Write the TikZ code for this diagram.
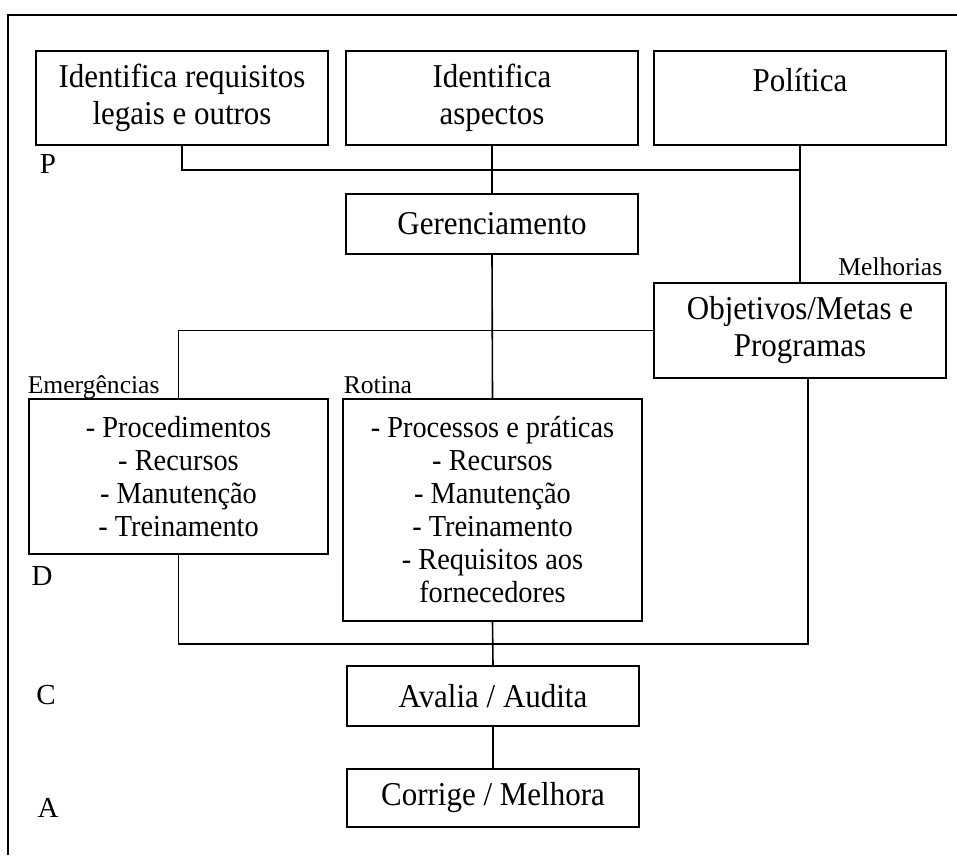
\documentclass[tikz,border=0pt]{standalone}
\usepackage{fontspec}
\setmainfont{Liberation Serif}[FakeStretch=0.93]
\newfontfamily\rotfont{Liberation Serif}
\usepackage{tikz}

\begin{document}
\begin{tikzpicture}[x=1pt, y=-1pt, line width=1.6pt,
  caixa/.style={draw, line width=1.6pt, minimum width=292pt, minimum height=94pt,
    inner sep=0pt, align=center, font=\fontsize{33.3}{37}\selectfont},
  lista/.style={caixa, minimum width=299pt, font=\fontsize{30.5}{33}\selectfont},
  rotulo/.style={inner sep=0pt, font=\rotfont\fontsize{25.6}{30}\selectfont},
  fase/.style={inner sep=0pt, font=\rotfont\fontsize{29}{30}\selectfont}]
  \useasboundingbox (0,0) rectangle (957,855);
  % moldura: so lado esquerdo e topo
  \draw (8,855) -- (8,15) -- (957,15);
  % P: planejamento
  \node[caixa] (req) at (182,98) {Identifica requisitos\\legais e outros};
  \node[caixa] (asp) at (492,98) {Identifica\\aspectos};
  \node[caixa] (pol) at (800,98) {Política\\\mbox{}};
  \node[caixa, minimum height=60pt] (ger) at (492,224) {Gerenciamento};
  \node[caixa, minimum height=95pt] (obj) at (800,330.5) {Objetivos/Metas e\\Programas};
  % D: execucao
  \node[lista, minimum height=155pt] (emg) at (178.5,476.5)
       {- Procedimentos\\- Recursos\\- Manutenção\\- Treinamento};
  \node[lista, minimum height=222pt] (rot) at (492.5,510)
       {- Processos e práticas\\- Recursos\\- Manutenção\\- Treinamento\\- Requisitos aos\\fornecedores};
  % C e A
  \node[caixa, minimum height=60pt] (ava) at (493,696) {Avalia / Audita};
  \node[caixa, minimum height=58pt] (cor) at (493,798) {Corrige / Melhora};
  % rotulos
  \node[rotulo, anchor=base east] (melh) at (943,275) {Melhorias};
  \node[rotulo, anchor=base west] (emgl) at (27,393) {Emergências};
  \node[rotulo, anchor=base west] (rotl) at (343,393) {Rotina};
  \foreach \f/\x/\y in {P/48/164, D/42/576, C/46/695, A/48/808}{
    \node[fase] (fase\f) at (\x,\y) {\f};
  }
  % ligacoes
  \coordinate (barraP) at (800,170);
  \draw (req.south) |- (barraP);
  \draw (asp.south) -- (ger.north);
  \draw (pol.south) -- (obj.north);
  \draw (ger.south) -- (rot.north);
  \draw (obj.west) -| (emg.north);
  \coordinate (barraD) at (808,644);
  \draw (emg.south) |- (barraD) -- (barraD |- obj.south);
  \draw (rot.south) -- (ava.north);
  \draw (ava.south) -- (cor.north);
\end{tikzpicture}
\end{document}
